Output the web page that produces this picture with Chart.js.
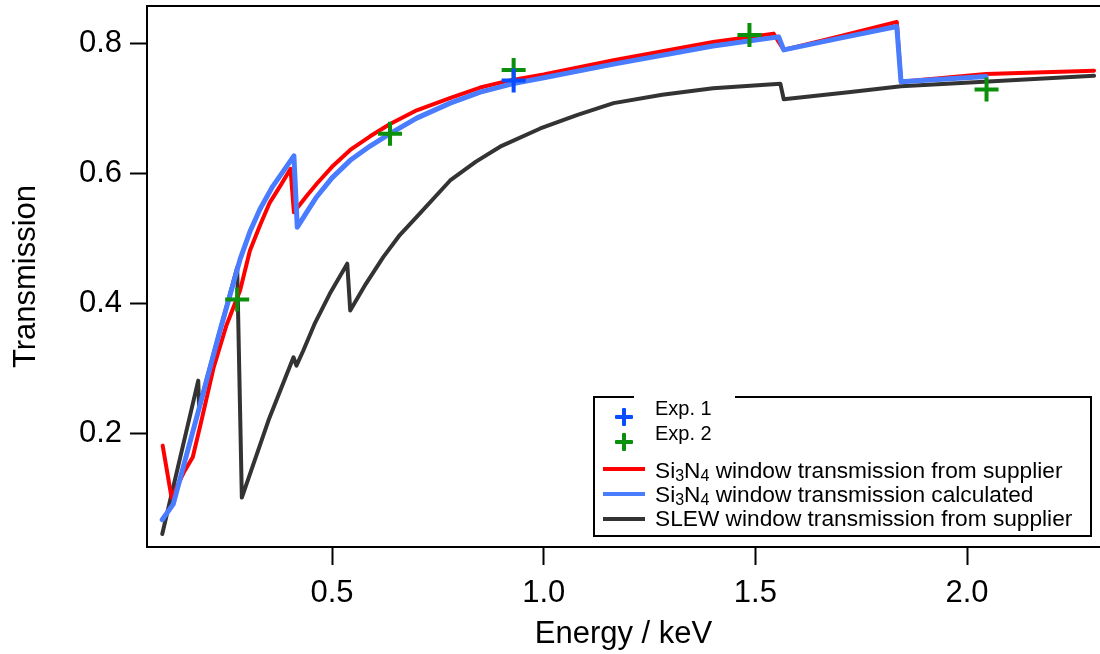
<!DOCTYPE html>
<html>
<head>
<title>Window transmission</title>
<script src="https://cdn.jsdelivr.net/npm/chart.js"></script>
<style>
  body { margin: 0; background: #fff; overflow: hidden; }
  #wrap { position: relative; width: 1100px; height: 654px; font-family: "Liberation Sans", Arial, sans-serif; }
  #chart { position: absolute; left: 0; top: 0; }
  .legbox { position: absolute; left: 593px; top: 396px; width: 499px; height: 141px; border: 2px solid #000; box-sizing: border-box; background: #fff; }
  .leggap { position: absolute; left: 634px; top: 393px; width: 101px; height: 7px; background: #fff; }
  .legtext { position: absolute; left: 655px; height: 26px; line-height: 26px; white-space: nowrap; color: #000; }
  .legtext sub { font-size: 16px; vertical-align: -3px; line-height: 0; }
  .legline { position: absolute; left: 603px; width: 42px; height: 4px; }
  .plus { position: absolute; width: 18px; height: 18px; }
  .plus:before, .plus:after { content: ""; position: absolute; background: currentColor; border-radius: 1px; }
  .plus:before { left: 0; top: 7px; width: 18px; height: 4px; }
  .plus:after { left: 7px; top: 0; width: 4px; height: 18px; }
</style>
</head>
<body>
<div id="wrap">
  <canvas id="chart" width="1100" height="654"></canvas>
</div>
<script>
// tick labels
const xTicks = [0.5, 1.0, 1.5, 2.0];
const yTicks = [0.2, 0.4, 0.6, 0.8];

// Si3N4 from supplier (keV, transmission)
const redE = [0.100, 0.121, 0.150, 0.171, 0.190, 0.220, 0.250, 0.283, 0.306, 0.330, 0.353, 0.380, 0.402, 0.410, 0.440, 0.464, 0.500, 0.543, 0.590, 0.637, 0.700, 0.780, 0.850, 0.920, 1.000, 1.165, 1.400, 1.543, 1.567, 1.700, 1.834, 1.844, 2.045, 2.300];
const redT = [0.181, 0.101, 0.140, 0.163, 0.215, 0.300, 0.365, 0.420, 0.481, 0.520, 0.555, 0.583, 0.607, 0.540, 0.565, 0.584, 0.610, 0.636, 0.657, 0.676, 0.697, 0.716, 0.732, 0.743, 0.752, 0.774, 0.802, 0.815, 0.790, 0.811, 0.833, 0.741, 0.753, 0.758];

// Si3N4 calculated
const blueE = [0.099, 0.125, 0.188, 0.235, 0.283, 0.306, 0.330, 0.360, 0.390, 0.410, 0.418, 0.440, 0.464, 0.500, 0.543, 0.590, 0.637, 0.700, 0.779, 0.850, 0.928, 1.000, 1.165, 1.400, 1.555, 1.567, 1.700, 1.834, 1.844, 2.045];
const blueT = [0.067, 0.091, 0.243, 0.357, 0.468, 0.510, 0.545, 0.580, 0.608, 0.627, 0.517, 0.540, 0.564, 0.593, 0.620, 0.642, 0.661, 0.685, 0.708, 0.725, 0.738, 0.747, 0.768, 0.796, 0.810, 0.790, 0.808, 0.826, 0.741, 0.749];

// SLEW from supplier
const slewE = [0.099, 0.184, 0.186, 0.235, 0.276, 0.287, 0.350, 0.409, 0.416, 0.432, 0.460, 0.495, 0.536, 0.543, 0.580, 0.621, 0.660, 0.700, 0.779, 0.840, 0.897, 0.992, 1.080, 1.165, 1.280, 1.400, 1.559, 1.567, 1.725, 1.844, 2.300];
const slewT = [0.045, 0.281, 0.240, 0.357, 0.455, 0.101, 0.220, 0.317, 0.304, 0.327, 0.370, 0.415, 0.461, 0.389, 0.430, 0.471, 0.505, 0.533, 0.589, 0.618, 0.641, 0.669, 0.690, 0.708, 0.721, 0.731, 0.738, 0.714, 0.725, 0.734, 0.750];

// measurements
const exp1E = [0.929];
const exp1T = [0.743];
const exp2E = [0.276, 0.637, 0.929, 1.486, 2.046];
const exp2T = [0.406, 0.661, 0.759, 0.813, 0.729];

function pts(xs, ys) {
  return xs.map((x, i) => ({ x: x, y: ys[i] }));
}

const lineStyle = { showLine: true, pointRadius: 0, borderJoinStyle: 'round', borderCapStyle: 'round', fill: false };
const markStyle = { showLine: false, pointStyle: 'cross', pointRadius: 12, pointBorderWidth: 4 };

// first dataset is drawn on top
const datasets = [
  Object.assign({ label: 'Exp. 1', data: pts(exp1E, exp1T), borderColor: '#0a4cff', backgroundColor: '#0a4cff' }, markStyle),
  Object.assign({ label: 'Exp. 2', data: pts(exp2E, exp2T), borderColor: '#0a900a', backgroundColor: '#0a900a' }, markStyle),
  Object.assign({ label: 'Si<sub>3</sub>N<sub>4</sub> window transmission calculated', data: pts(blueE, blueT), borderColor: '#4a7cff', borderWidth: 5 }, lineStyle),
  Object.assign({ label: 'Si<sub>3</sub>N<sub>4</sub> window transmission from supplier', data: pts(redE, redT), borderColor: '#ff0000', borderWidth: 4 }, lineStyle),
  Object.assign({ label: 'SLEW window transmission from supplier', data: pts(slewE, slewT), borderColor: '#333333', borderWidth: 4 }, lineStyle)
];

const axisFont = { family: '"Liberation Sans", Arial, sans-serif', size: 31 };

// keep the plot frame at the same place whatever the tick labels need
function noPad(s) {
  s.paddingTop = 0; s.paddingBottom = 0; s.paddingLeft = 0; s.paddingRight = 0;
}

new Chart(document.getElementById('chart'), {
  type: 'line',
  data: { datasets: datasets },
  options: {
    responsive: false,
    animation: false,
    layout: { autoPadding: false, padding: { top: 6, left: 0, right: 0, bottom: 0 } },
    plugins: { legend: { display: false }, tooltip: { enabled: false } },
    scales: {
      x: {
        type: 'linear', min: 0.063, max: 2.314,
        afterBuildTicks: s => { s.ticks = xTicks.map(v => ({ value: v })); },
        afterFit: s => { s.height = 107; noPad(s); },
        ticks: { color: '#000', font: axisFont, padding: 10, maxRotation: 0, callback: v => v.toFixed(1) },
        grid: { drawOnChartArea: false, drawTicks: true, tickLength: 18, tickWidth: 2, tickColor: '#000' },
        border: { color: '#000', width: 2 },
        title: { display: true, text: 'Energy / keV', color: '#000', font: axisFont, padding: { top: 0, bottom: 1 } }
      },
      xTop: {
        type: 'linear', position: 'top', min: 0.063, max: 2.314,
        afterFit: s => { s.height = 0; noPad(s); },
        ticks: { display: false },
        grid: { display: false, drawTicks: false },
        border: { display: true, color: '#000', width: 2 }
      },
      y: {
        type: 'linear', min: 0.025, max: 0.8575,
        afterBuildTicks: s => { s.ticks = yTicks.map(v => ({ value: v })); },
        afterFit: s => { s.width = 147; noPad(s); },
        ticks: { color: '#000', font: axisFont, padding: 8, callback: v => v.toFixed(1) },
        grid: { drawOnChartArea: false, drawTicks: true, tickLength: 17, tickWidth: 2, tickColor: '#000' },
        border: { color: '#000', width: 2 },
        title: { display: true, text: 'Transmission', color: '#000', font: axisFont, padding: { top: 8, bottom: 0 } }
      }
    }
  }
});

// legend box, same order as in the original figure
const wrap = document.getElementById('wrap');
function add(cls, css, html) {
  const d = document.createElement('div');
  d.className = cls;
  Object.assign(d.style, css);
  if (html) d.innerHTML = html;
  wrap.appendChild(d);
  return d;
}
add('legbox', {});
add('leggap', {});
const legendOrder = [0, 1, 3, 2, 4];
const rowMid = [408, 433, 470, 494, 518];
const markMid = [417, 442, 469, 494, 519];
legendOrder.forEach((k, i) => {
  const ds = datasets[k];
  if (ds.showLine) {
    add('legline', { top: (markMid[i] - 2) + 'px', background: ds.borderColor });
    add('legtext', { top: (rowMid[i] - 13) + 'px', fontSize: '22.7px' }, ds.label);
  } else {
    add('plus', { left: '615px', top: (markMid[i] - 9) + 'px', color: ds.borderColor });
    add('legtext', { top: (rowMid[i] - 13) + 'px', fontSize: '20px' }, ds.label);
  }
});
</script>
</body>
</html>
